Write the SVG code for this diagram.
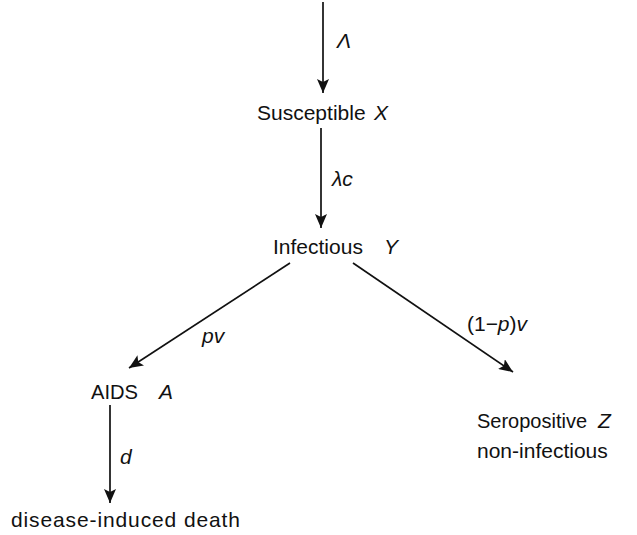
<svg xmlns="http://www.w3.org/2000/svg" width="637" height="535" viewBox="0 0 637 535">
<style>
.t{font-family:"Liberation Sans",Arial,sans-serif;font-size:21px;fill:#111}
.i{font-family:"Liberation Sans",Arial,sans-serif;font-size:21px;font-style:italic;fill:#111}
.c{stroke:#111;stroke-width:1.7;fill:none}
</style>
<defs>
<marker id="ah" markerUnits="userSpaceOnUse" markerWidth="16" markerHeight="12" refX="14" refY="6" orient="auto">
<path d="M0,0 L14,6 L0,12 L3,6 z" fill="#111"/>
</marker>
</defs>
<rect width="637" height="535" fill="#fff"/>
<g id="connectors">
<line class="c" x1="323" y1="2" x2="323" y2="93" marker-end="url(#ah)"/>
<line class="c" x1="321" y1="128" x2="321" y2="228" marker-end="url(#ah)"/>
<line class="c" x1="290" y1="263" x2="129" y2="368" marker-end="url(#ah)"/>
<line class="c" x1="353" y1="263" x2="513" y2="372" marker-end="url(#ah)"/>
<line class="c" x1="110" y1="405" x2="110" y2="503" marker-end="url(#ah)"/>
<text class="i" x="337" y="48">Λ</text>
<text class="i" x="332" y="186">λc</text>
<text class="i" x="202" y="343">pv</text>
<text class="t" x="467" y="331" textLength="60" lengthAdjust="spacing">(1−<tspan font-style="italic">p</tspan>)<tspan font-style="italic">v</tspan></text>
<text class="i" x="120" y="464">d</text>
</g>
<g id="susceptible">
<text class="t" x="257" y="120">Susceptible</text>
<text class="i" x="374" y="120">X</text>
</g>
<g id="infectious">
<text class="t" x="273" y="254">Infectious</text>
<text class="i" x="384" y="254">Y</text>
</g>
<g id="aids">
<text class="t" x="91" y="399" textLength="47" lengthAdjust="spacingAndGlyphs">AIDS</text>
<text class="i" x="159" y="399">A</text>
</g>
<g id="seropositive">
<text class="t" x="477" y="428" textLength="110" lengthAdjust="spacingAndGlyphs">Seropositive</text>
<text class="i" x="598" y="428">Z</text>
<text class="t" x="477" y="458">non-infectious</text>
</g>
<g id="death">
<text class="t" x="11" y="527" textLength="229" lengthAdjust="spacing">disease-induced death</text>
</g>
</svg>
